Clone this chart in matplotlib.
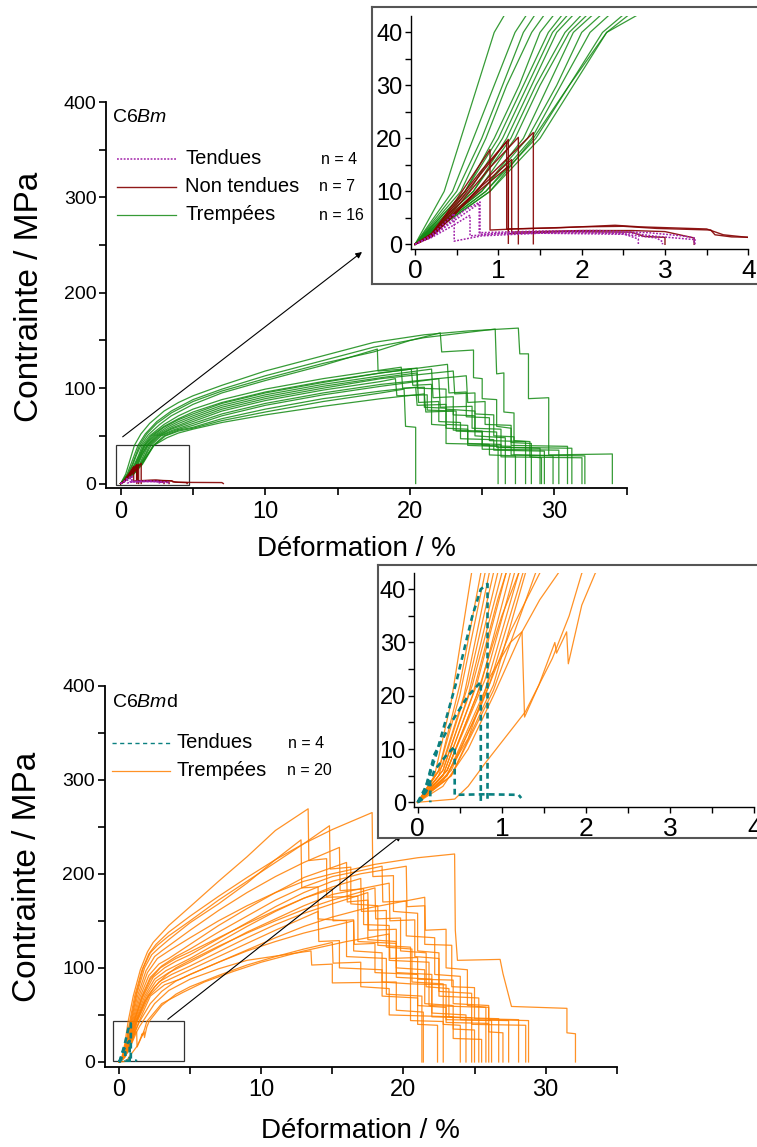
import matplotlib
matplotlib.use('Agg')
import matplotlib.pyplot as plt
from matplotlib.ticker import MultipleLocator
from matplotlib.lines import Line2D
from matplotlib.patches import Rectangle

plt.rcParams['font.family'] = 'Liberation Sans'
plt.rcParams['mathtext.fontset'] = 'custom'
plt.rcParams['mathtext.rm'] = 'Liberation Sans'
plt.rcParams['mathtext.it'] = 'Liberation Sans:italic'

W, H = 757, 1147

# ---------------- C6Bm : (deformation %, contrainte MPa) ----------------
# Tendues (n = 4)
bm_tendue_1 = [(0,0),(0.2,1.5),(0.4,4.0),(0.6,6.5),(0.78,8.0),(0.78,1.9),(1.2,2.2),(2.0,2.4),(2.6,2.1),(2.9,1.5),(3.35,0.9),(3.35,0)]
bm_tendue_2 = [(0,0),(0.2,1.3),(0.45,3.5),(0.66,5.5),(0.66,1.6),(1.0,2.0),(2.0,2.2),(2.5,2.0),(2.68,1.0),(2.68,0)]
bm_tendue_3 = [(0,0),(0.2,1.8),(0.47,5.8),(0.47,0.6),(0.8,1.6),(1.5,2.1),(2.5,1.9),(2.9,1.2),(2.97,0.5),(2.97,0)]
bm_tendue_4 = [(0,0),(0.25,2.0),(0.5,4.8),(0.77,7.7),(0.77,2.2),(1.5,2.5),(2.2,2.6),(2.8,2.2),(3.2,1.6),(3.36,1.2),(3.36,0)]

# Non tendues (n = 7)
bm_nontendue_1 = [(0,0),(0.2,2.0),(0.5,8.5),(0.9,17.9),(0.9,2.7),(1.2,2.9),(2.0,3.3),(2.5,3.4),(2.9,3.0),(3.55,2.7),(3.6,1.8),(3.8,1.4),(4.5,1.2),(7.0,1.0),(7.1,0)]
bm_nontendue_2 = [(0,0),(0.2,1.8),(0.5,7.5),(0.8,13.5),(1.12,19.8),(1.12,0.2)]
bm_nontendue_3 = [(0,0),(0.2,2.0),(0.5,8.0),(0.8,14.0),(1.1,19.4),(1.1,2.9),(1.7,3.1),(2.4,3.6),(2.7,3.3),(3.5,2.9),(3.7,1.8),(4.0,1.3),(4.6,1.0),(4.6,0)]
bm_nontendue_4 = [(0,0),(0.2,1.6),(0.5,7.0),(0.9,14.5),(1.24,20.2),(1.24,0.1)]
bm_nontendue_5 = [(0,0),(0.2,1.4),(0.5,6.0),(0.9,13.0),(1.42,21.1),(1.42,0.1)]
bm_nontendue_6 = [(0,0),(0.2,1.5),(0.5,6.5),(0.8,11.0),(1.16,16.0),(1.16,2.3),(2.0,2.6),(2.6,2.6),(3.0,2.4),(3.35,1.2),(3.35,0)]
bm_nontendue_7 = [(0,0),(0.2,1.5),(0.5,6.2),(0.8,10.5),(1.12,14.7),(1.12,2.0),(1.8,2.4),(2.6,2.3),(2.75,1.5),(3.0,1.3),(3.0,0)]

# Trempees (n = 16)
bm_trempee_1 = [(0,0),(0.35,10),(0.55,20),(0.75,30),(0.95,40),(1.4,52),(2,63),(3,76),(4,85),(5,92),(7,103),(10,118),(14,134),(17.5,148),(21,156),(24,160),(27.5,163),
                (27.6,136),(28.2,136),(28.2,89),(29.6,90),(29.6,30),(34.0,31),(34.0,0)]
bm_trempee_2 = [(0,0),(0.45,10),(0.7,20),(0.95,30),(1.2,40),(1.7,52),(2.5,65),(3.5,76),(5,88),(7,99),(10,113),(14,129),(17.5,143),(21,153),(25.9,162),
                (26.0,115),(26.5,116),(26.5,75),(27.2,74),(27.2,45),(28.3,44),(28.3,28),(29.1,27),(29.1,0)]
bm_trempee_3 = [(0,0),(0.5,10),(0.8,20),(1.05,30),(1.3,40),(1.8,52),(2.5,63),(3.5,74),(5,86),(7,97),(10,110),(14,126),(17.5,138),(20,150),(22.1,158),
                (22.2,138),(24.4,140),(24.4,111),(25.0,110),(25.0,89),(26.0,88),(26.0,60),(27.0,58),(27.0,43),(28.4,42),(28.4,0)]
bm_trempee_4 = [(0,0),(0.55,10),(0.85,20),(1.1,30),(1.4,40),(1.9,51),(2.7,62),(3.5,71),(5,83),(7,95),(10,108),(14,124),(17.75,141),
                (17.8,118),(20.5,121),(20.5,100),(22.5,99),(22.5,78),(24.5,76),(24.5,50),(26.6,48),(26.6,0)]
bm_trempee_5 = [(0,0),(0.6,10),(0.95,20),(1.25,30),(1.5,40),(2,50),(3,62),(4,71),(5,78),(7,88),(10,99),(14,110),(18,119),(19.4,122),
                (19.5,100),(21.0,101),(21.0,80),(22.5,79),(22.5,58),(24.0,57),(24.0,40),(26.1,39),(26.1,0)]
bm_trempee_6 = [(0,0),(0.6,10),(1.0,20),(1.3,30),(1.6,40),(2.1,50),(3,60),(4,68),(5,75),(7,85),(10,96),(14,107),(18,116),(20.1,120),
                (20.2,103),(21.5,104),(21.5,62),(22.5,61),(22.5,42),(25.5,41),(25.5,30),(27.3,29),(27.3,0)]
bm_trempee_7 = [(0,0),(0.65,10),(1.05,20),(1.35,30),(1.65,40),(2.2,50),(3,59),(4,67),(5,73),(7,84),(10,95),(14,106),(18,116),(22.6,125),
                (22.7,95),(23.9,96),(23.9,70),(25.5,69),(25.5,45),(28.0,44),(28.0,0)]
bm_trempee_8 = [(0,0),(0.7,10),(1.1,20),(1.4,30),(1.7,40),(2.3,50),(3.2,59),(4,65),(5,71),(7,82),(10,93),(14,104),(18,113),(21.5,120),
                (21.6,90),(23.0,91),(23.0,72),(24.5,71),(24.5,55),(26.0,54),(26.0,38),(29.0,37),(29.0,0)]
bm_trempee_9 = [(0,0),(0.7,10),(1.15,20),(1.45,30),(1.8,40),(2.4,50),(3.3,58),(4,63),(5,69),(7,80),(10,91),(14,102),(18,111),(20.5,116),
                (20.6,85),(22.0,86),(22.0,65),(23.5,64),(23.5,47),(25.8,46),(25.8,35),(29.3,34),(29.3,0)]
bm_trempee_10 = [(0,0),(0.75,10),(1.2,20),(1.5,30),(1.85,40),(2.5,50),(3.5,58),(5,67),(7,78),(10,89),(14,100),(18,110),(23.0,118),
                 (23.1,94),(24.5,95),(24.5,73),(25.8,72),(25.8,50),(27.2,49),(27.2,30),(29.9,29),(29.9,0)]
bm_trempee_11 = [(0,0),(0.8,10),(1.3,20),(1.6,30),(1.9,40),(2.6,50),(3.5,57),(5,65),(7,76),(10,87),(14,98),(18,107),(19.0,110),
                 (19.1,92),(21.2,93),(21.2,77),(23.2,76),(23.2,55),(25.0,54),(25.0,36),(30.3,35),(30.3,0)]
bm_trempee_12 = [(0,0),(0.8,10),(1.35,20),(1.7,30),(2.0,40),(2.7,50),(3.6,56),(5,63),(7,73),(10,84),(14,95),(18,104),(23.9,113),
                 (24.0,85),(25.2,86),(25.2,62),(27.0,61),(27.0,40),(30.9,39),(30.9,0)]
bm_trempee_13 = [(0,0),(0.85,10),(1.4,20),(1.75,30),(2.1,40),(2.8,50),(3.8,56),(5,61),(7,71),(10,82),(14,93),(18,102),(22.0,110),
                 (22.1,80),(24.3,81),(24.3,58),(26.3,57),(26.3,38),(31.2,37),(31.2,0)]
bm_trempee_14 = [(0,0),(0.85,10),(1.45,20),(1.85,30),(2.25,40),(3,50),(4,56),(5,59),(7,68),(10,78),(14,89),(18,97),(20.4,101),
                 (20.5,82),(22.5,83),(22.5,62),(24.0,61),(24.0,42),(26.3,41),(26.3,28),(31.9,27),(31.9,0)]
bm_trempee_15 = [(0,0),(0.9,10),(1.5,20),(1.9,30),(2.3,40),(3.1,50),(4,55),(5,58),(7,66),(10,75),(14,86),(18,95),(19.6,99),
                 (19.7,60),(20.4,59),(20.4,0)]
bm_trempee_16 = [(0,0),(0.9,10),(1.42,20),(1.85,30),(2.3,40),(3.2,48),(4,53),(5,57),(7,64),(10,72),(14,81),(18,89),(21.0,94),
                 (21.1,75),(23.0,76),(23.0,56),(25.0,55),(25.0,40),(27.0,39),(27.0,30),(32.1,29),(32.1,0)]

# ---------------- C6Bmd ----------------
# Tendues (n = 4)
bmd_tendue_1 = [(0,0),(0.05,0.5),(0.22,9),(0.45,22),(0.65,35),(0.75,40),(0.83,41),(0.83,0)]
bmd_tendue_2 = [(0,0),(0.1,3),(0.2,9),(0.4,15),(0.6,20),(0.75,22.6),(0.75,0)]
bmd_tendue_3 = [(0,0),(0.1,2),(0.2,6),(0.35,9),(0.44,10.5),(0.44,1.4),(0.8,1.5),(1.2,1.4),(1.23,0.8)]
bmd_tendue_4 = [(0,0),(0.05,1),(0.1,3),(0.15,3.5),(0.15,0)]

# Trempees (n = 20)
bmd_trempee_1 = [(0,0),(0.2,5),(0.4,19),(0.64,43),(1.0,70),(1.5,98),(2.0,117),(2.4,127),(3.5,145),(5,165),(7,192),(9,218),(11,246),(13.3,269),
                 (13.35,214),(14.6,216),(14.6,175),(16.8,176),(16.8,128),(19.5,126),(19.5,90),(22.0,88),(22.0,52),(24.4,50),(24.4,0)]
bmd_trempee_2 = [(0,0),(0.25,6),(0.5,22),(0.75,43),(1.1,70),(1.6,97),(2.1,115),(2.6,125),(3.5,138),(5,155),(7,176),(9,196),(11,215),(13,232),(15,247),(17.8,265),
                 (17.85,197),(19.3,198),(19.3,160),(21.0,158),(21.0,118),(22.5,116),(22.5,70),(25.3,68),(25.3,0)]
bmd_trempee_3 = [(0,0),(0.25,6),(0.5,20),(0.8,43),(1.2,72),(1.7,100),(2.2,116),(2.7,124),(3.5,134),(5,150),(7,172),(9,192),(11,212),(13,232),(14.8,251),
                 (14.85,205),(16.3,207),(16.3,168),(18.2,166),(18.2,124),(20.5,122),(20.5,83),(23.0,82),(23.0,45),(26.2,44),(26.2,0)]
bmd_trempee_4 = [(0,0),(0.25,5),(0.55,20),(0.85,43),(1.25,72),(1.8,100),(2.3,114),(2.8,121),(3.5,130),(5,148),(7,168),(9,190),(11,215),(12.8,236),
                 (12.85,185),(14.0,186),(14.0,152),(16.0,150),(16.0,112),(18.8,110),(18.8,72),(21.3,70),(21.3,0)]
bmd_trempee_5 = [(0,0),(0.3,7),(0.6,22),(0.9,43),(1.3,70),(1.9,97),(2.5,112),(3.0,118),(5,140),(7,161),(9,180),(11,197),(13,212),(15.5,228),
                 (15.55,182),(17.2,184),(17.2,146),(19.0,145),(19.0,108),(21.8,106),(21.8,60),(25.8,58),(25.8,0)]
bmd_trempee_6 = [(0,0),(0.3,6),(0.6,20),(0.95,43),(1.4,70),(2.0,95),(2.7,110),(3.5,118),(5,132),(7,150),(9,166),(11,180),(13,192),(15,200),(18,210),(21,217),(23.6,221),
                 (23.65,140),(23.8,108),(26.8,109),(27.0,94),(27.6,59),(31.5,57),(31.5,31),(32.1,30),(32.1,0)]
bmd_trempee_7 = [(0,0),(0.3,6),(0.65,22),(1.0,43),(1.5,70),(2.1,92),(2.8,104),(3.5,110),(5,125),(7,145),(9,163),(11,180),(13,196),(16.0,212),
                 (16.05,170),(17.5,172),(17.5,130),(19.5,128),(19.5,95),(22.0,93),(22.0,48),(26.7,46),(26.7,0)]
bmd_trempee_8 = [(0,0),(0.3,5),(0.7,22),(1.05,43),(1.6,70),(2.2,90),(3.0,102),(4,112),(5,120),(7,138),(9,155),(11,172),(13,186),(15,197),(18.5,208),
                 (18.55,170),(20.2,171),(20.2,134),(22.2,132),(22.2,93),(24.0,91),(24.0,45),(27.4,44),(27.4,0)]
bmd_trempee_9 = [(0,0),(0.35,6),(0.75,22),(1.1,43),(1.7,70),(2.4,90),(3.2,100),(4,107),(5,114),(7,131),(9,148),(11,165),(13,180),(15,192),(17,200),(20.2,208),
                 (20.25,165),(21.5,166),(21.5,125),(23.4,124),(23.4,80),(25.0,79),(25.0,46),(28.1,45),(28.1,0)]
bmd_trempee_10 = [(0,0),(0.35,6),(0.8,23),(1.15,43),(1.8,70),(2.5,88),(3.3,97),(5,110),(7,127),(9,144),(11,160),(13,174),(15,186),(17.0,195),
                  (17.05,160),(18.8,161),(18.8,122),(20.6,120),(20.6,85),(22.8,83),(22.8,40),(24.0,39),(24.0,0)]
bmd_trempee_11 = [(0,0),(0.35,5),(0.8,21),(1.2,43),(1.9,70),(2.6,86),(3.5,95),(5,106),(7,122),(9,138),(11,152),(13,166),(15,178),(19.0,190),
                  (19.05,150),(20.8,151),(20.8,112),(22.5,110),(22.5,75),(24.8,73),(24.8,40),(28.6,39),(28.6,0)]
bmd_trempee_12 = [(0,0),(0.4,6),(0.85,22),(1.25,43),(2.0,70),(2.8,85),(3.7,93),(5,102),(7,117),(9,132),(11,146),(13,158),(15,168),(17.5,180),
                  (17.55,140),(19.5,141),(19.5,100),(21.5,98),(21.5,62),(23.5,60),(23.5,35),(25.0,34),(25.0,0)]
bmd_trempee_13 = [(0,0),(0.4,5),(0.9,22),(1.28,43),(2.1,70),(3.0,84),(4,91),(5,98),(7,112),(9,126),(11,140),(14.0,160),
                  (14.05,128),(15.5,129),(15.5,100),(18.5,98),(18.5,70),(21.0,68),(21.0,40),(22.4,39),(22.4,0)]
bmd_trempee_14 = [(0,0),(0.4,5),(0.9,21),(1.4,43),(2.2,70),(3.2,82),(4.3,88),(5,93),(7,106),(9,119),(11,132),(13,144),(15,154),(17,162),(21.5,175),
                  (21.55,140),(23.0,141),(23.0,100),(24.5,98),(24.5,60),(26.0,58),(26.0,32),(27.0,31),(27.0,0)]
bmd_trempee_15 = [(0,0),(0.3,4),(0.6,12),(0.86,23.6),(1.1,30),(1.24,32),(1.27,16),(1.44,22),(1.63,30),(1.65,28),(1.77,32),(1.79,26),(1.95,37),(2.11,43),
                  (3,60),(4,72),(5,80),(7,92),(9,103),(11,112),(13,120),(15.0,127),
                  (15.05,105),(17.0,106),(17.0,80),(19.0,78),(19.0,50),(23.5,48),(23.5,25),(25.5,24),(25.5,0)]
bmd_trempee_16 = [(0,0),(0.3,3),(0.6,10),(0.9,20),(1.24,32),(1.45,38),(1.67,43),(2.5,62),(3.5,76),(5,88),(7,99),(9,108),(13,117),(13.5,118),
                  (13.55,103),(15.0,104),(15.0,84),(19.5,85),(19.5,55),(21.4,53),(21.4,0)]
bmd_trempee_17 = [(0,0),(0.44,0.6),(0.6,3),(0.8,7.3),(1.28,17),(1.6,27),(1.8,35),(1.95,43),(3.0,62),(4.5,74),(6,85),(8,96),(10,106),(13,118),(16,128),(19.0,136),
                  (19.05,110),(21.0,111),(21.0,88),(23.5,87),(23.5,62),(26.0,60),(26.0,45),(28.8,44),(28.8,0)]
bmd_trempee_18 = [(0,0),(0.35,5),(0.75,18),(1.1,32),(1.45,43),(2.2,62),(3.0,75),(4.0,86),(5,93),(7,106),(9,118),(11,128),(13,137),(16.5,150),
                  (16.55,125),(18.0,126),(18.0,95),(21.0,93),(21.0,60),(23.0,58),(23.0,42),(26.0,41),(26.0,0)]
bmd_trempee_19 = [(0,0),(0.35,6),(0.7,20),(1.0,35),(1.2,43),(1.8,64),(2.5,80),(3.3,92),(4.0,100),(5,108),(7,123),(9,137),(11,150),(13,162),(15,172),(18.0,185),
                  (18.05,152),(19.8,153),(19.8,118),(21.6,116),(21.6,80),(23.2,78),(23.2,48),(24.8,47),(24.8,0)]
bmd_trempee_20 = [(0,0),(0.3,5),(0.65,20),(0.95,38),(1.05,43),(1.6,68),(2.2,88),(2.9,100),(4,110),(5,117),(7,132),(9,147),(11,161),(13,174),(15.0,184),
                  (15.05,150),(16.5,151),(16.5,118),(18.5,116),(18.5,85),(20.5,83),(20.5,44),(22.8,43),(22.8,0)]

bm_tendues = [bm_tendue_1, bm_tendue_2, bm_tendue_3, bm_tendue_4]
bm_nontendues = [bm_nontendue_1, bm_nontendue_2, bm_nontendue_3, bm_nontendue_4,
                 bm_nontendue_5, bm_nontendue_6, bm_nontendue_7]
bm_trempees = [bm_trempee_1, bm_trempee_2, bm_trempee_3, bm_trempee_4, bm_trempee_5, bm_trempee_6,
               bm_trempee_7, bm_trempee_8, bm_trempee_9, bm_trempee_10, bm_trempee_11, bm_trempee_12,
               bm_trempee_13, bm_trempee_14, bm_trempee_15, bm_trempee_16]
bmd_tendues = [bmd_tendue_1, bmd_tendue_2, bmd_tendue_3, bmd_tendue_4]
bmd_trempees = [bmd_trempee_1, bmd_trempee_2, bmd_trempee_3, bmd_trempee_4, bmd_trempee_5,
                bmd_trempee_6, bmd_trempee_7, bmd_trempee_8, bmd_trempee_9, bmd_trempee_10,
                bmd_trempee_11, bmd_trempee_12, bmd_trempee_13, bmd_trempee_14, bmd_trempee_15,
                bmd_trempee_16, bmd_trempee_17, bmd_trempee_18, bmd_trempee_19, bmd_trempee_20]

GREEN = '#138a13'
DARKRED = '#840000'
PURPLE = '#a020a8'
ORANGE = '#ff7f00'
TEAL = '#0a8080'

STYLE_PURPLE = dict(color=PURPLE, lw=1.1, ls=(0, (1.2, 1.0)))
STYLE_RED = dict(color=DARKRED, lw=1.0, alpha=0.9)
STYLE_GREEN = dict(color=GREEN, lw=0.9, alpha=0.85)
STYLE_ORANGE = dict(color=ORANGE, lw=0.9, alpha=0.85)
STYLE_TEAL = dict(color=TEAL, lw=1.9, ls=(0, (2.2, 1.6)))


def fx(px):
    return px / W


def fy(py):
    return 1 - py / H


def draw_curves(ax, curves, style):
    for c in curves:
        xs = [p[0] for p in c]
        ys = [p[1] for p in c]
        ax.plot(xs, ys, **style)


def style_main(ax):
    ax.set_xlim(-1, 35)
    ax.set_ylim(-5, 400)
    for s in ['top', 'right']:
        ax.spines[s].set_visible(False)
    for s in ['left', 'bottom']:
        ax.spines[s].set_linewidth(1.3)
    ax.xaxis.set_major_locator(MultipleLocator(10))
    ax.xaxis.set_minor_locator(MultipleLocator(5))
    ax.yaxis.set_major_locator(MultipleLocator(100))
    ax.yaxis.set_minor_locator(MultipleLocator(50))
    ax.tick_params(axis='both', which='both', direction='out', length=5, width=1.2)
    ax.tick_params(axis='x', labelsize=17, pad=4)
    ax.tick_params(axis='y', labelsize=14, pad=2)


def style_inset(ax, xlim):
    ax.set_facecolor('none')
    ax.set_xlim(*xlim)
    ax.set_ylim(-0.94, 43.1)
    for s in ['top', 'right']:
        ax.spines[s].set_visible(False)
    for s in ['left', 'bottom']:
        ax.spines[s].set_linewidth(1.0)
    ax.xaxis.set_major_locator(MultipleLocator(1))
    ax.xaxis.set_minor_locator(MultipleLocator(0.5))
    ax.yaxis.set_major_locator(MultipleLocator(10))
    ax.yaxis.set_minor_locator(MultipleLocator(5))
    ax.tick_params(axis='both', which='both', direction='out', length=4, width=1.0)
    ax.tick_params(axis='x', labelsize=19, pad=3)
    ax.tick_params(axis='y', labelsize=17, pad=2)


def add_frame(fig, left, top, bottom):
    fr = fig.add_axes([fx(left), fy(bottom), 1.02 - fx(left), fy(top) - fy(bottom)])
    fr.set_xticks([])
    fr.set_yticks([])
    fr.set_facecolor('white')
    for s in fr.spines.values():
        s.set_edgecolor('#555555')
        s.set_linewidth(1.5)
    return fr


fig = plt.figure(figsize=(W / 100, H / 100), dpi=100)

# ---------- top panel : C6Bm ----------
ax1 = fig.add_axes([fx(106.2), fy(488.3), (626.8 - 106.2) / W, (488.3 - 102.1) / H])
style_main(ax1)
draw_curves(ax1, bm_trempees, STYLE_GREEN)
draw_curves(ax1, bm_nontendues, STYLE_RED)
draw_curves(ax1, bm_tendues, STYLE_PURPLE)
ax1.add_patch(Rectangle((-0.33, -1.8), 5.07, 42.5, fill=False, ec='#333333', lw=0.9))
ax1.annotate('', xy=(fx(362), fy(252)), xycoords='figure fraction', xytext=(0.14, 49), textcoords='data',
             arrowprops=dict(arrowstyle='-|>', color='black', lw=0.8, mutation_scale=9, shrinkA=0, shrinkB=0))

fig.text(fx(111.7), fy(121.7), r'C6$\mathit{Bm}$', fontsize=14, va='baseline', ha='left')
leg1 = [('Tendues', 'n = 4', 159, STYLE_PURPLE, 321),
        ('Non tendues', 'n = 7', 186.7, STYLE_RED, 319),
        ('Trempées', 'n = 16', 215, STYLE_GREEN, 319)]
for lab, n, yy, st, xn in leg1:
    fig.add_artist(Line2D([fx(116.7), fx(176)], [fy(yy), fy(yy)], transform=fig.transFigure, **st))
    fig.text(fx(185), fy(yy), lab, fontsize=14.5, va='center', ha='left')
    fig.text(fx(xn), fy(yy), n, fontsize=11.5, va='center', ha='left')

fig.text(fx(30), fy(297), 'Contrainte / MPa', fontsize=24, rotation=90, va='center', ha='center')
fig.text(fx(356), fy(549), 'Déformation / %', fontsize=20, va='center', ha='center')

add_frame(fig, 371.7, 7.3, 284)
in1 = fig.add_axes([fx(410.7), fy(249.3), (748.3 - 410.7) / W, (249.3 - 16) / H])
style_inset(in1, (-0.052, 4.0))
draw_curves(in1, bm_trempees, STYLE_GREEN)
draw_curves(in1, bm_nontendues, STYLE_RED)
draw_curves(in1, bm_tendues, STYLE_PURPLE)

# ---------- bottom panel : C6Bmd ----------
ax2 = fig.add_axes([fx(104.8), fy(1066.7), (616.7 - 104.8) / W, (1066.7 - 685.5) / H])
style_main(ax2)
draw_curves(ax2, bmd_trempees, STYLE_ORANGE)
draw_curves(ax2, bmd_tendues, STYLE_TEAL)
ax2.add_patch(Rectangle((-0.43, 1.0), 5.03, 42.2, fill=False, ec='#333333', lw=0.9))
ax2.annotate('', xy=(fx(401.7), fy(835)), xycoords='figure fraction', xytext=(3.43, 45.3), textcoords='data',
             arrowprops=dict(arrowstyle='-|>', color='black', lw=0.8, mutation_scale=9, shrinkA=0, shrinkB=0))

fig.text(fx(111.7), fy(706.7), r'C6$\mathit{Bm}$d', fontsize=14, va='baseline', ha='left')
leg2 = [('Tendues', 'n = 4', 743, STYLE_TEAL, 288),
        ('Trempées', 'n = 20', 770.7, STYLE_ORANGE, 286.7)]
for lab, n, yy, st, xn in leg2:
    st2 = dict(st)
    if st is STYLE_TEAL:
        st2['lw'] = 1.0
        st2['ls'] = (0, (3, 2.5))
    fig.add_artist(Line2D([fx(111.7), fx(170)], [fy(yy), fy(yy)], transform=fig.transFigure, **st2))
    fig.text(fx(176.7), fy(yy), lab, fontsize=14.5, va='center', ha='left')
    fig.text(fx(xn), fy(yy), n, fontsize=11.5, va='center', ha='left')

fig.text(fx(28), fy(877), 'Contrainte / MPa', fontsize=24, rotation=90, va='center', ha='center')
fig.text(fx(360), fy(1131), 'Déformation / %', fontsize=20, va='center', ha='center')

add_frame(fig, 378.3, 565, 837.7)
in2 = fig.add_axes([fx(414.3), fy(807.3), (754.3 - 414.3) / W, (807.3 - 572.7) / H])
style_inset(in2, (-0.04, 4.0))
draw_curves(in2, bmd_trempees, STYLE_ORANGE)
draw_curves(in2, bmd_tendues, STYLE_TEAL)

fig.savefig('out.png', dpi=100)
